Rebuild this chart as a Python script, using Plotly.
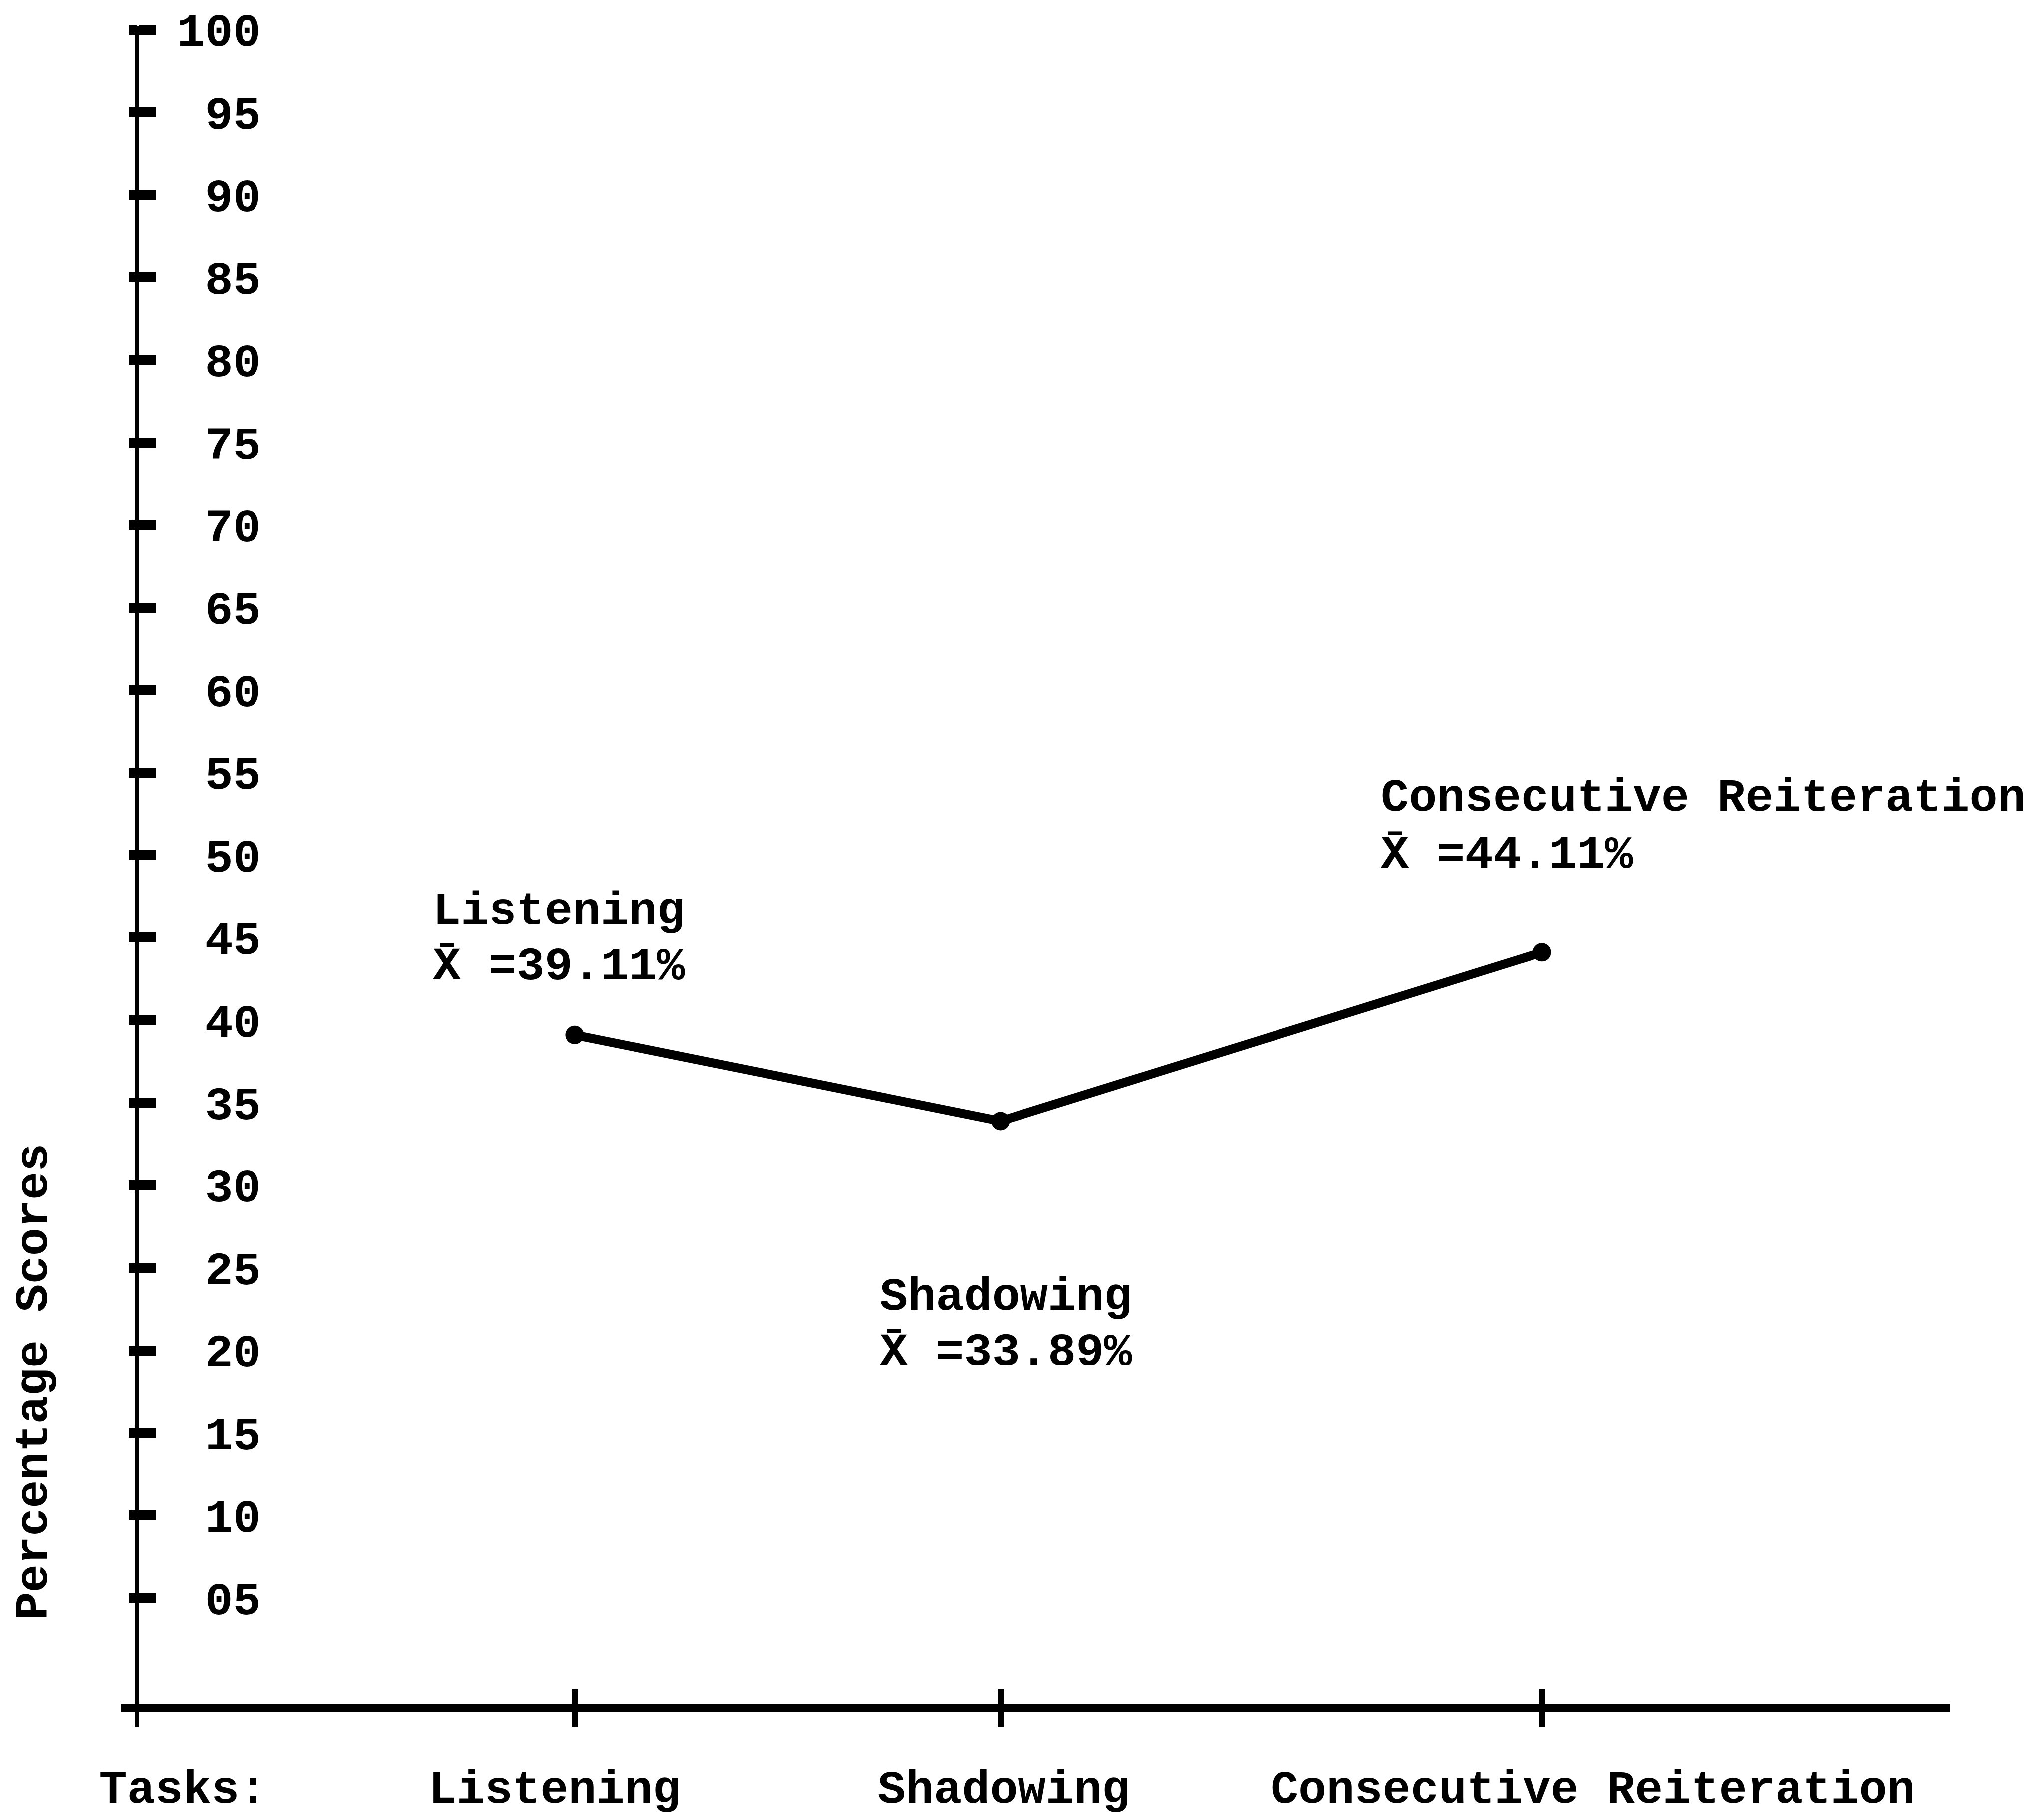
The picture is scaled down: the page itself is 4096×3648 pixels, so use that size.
import plotly.graph_objects as go

# ---------------- data ----------------
tasks = ["Listening", "Shadowing", "Consecutive Reiteration"]
task_means = [39.11, 33.89, 44.11]
mean_labels = ["X\u0304 =39.11%", "X\u0304 =33.89%", "X\u0304 =44.11%"]
y_tick_values = [5, 10, 15, 20, 25, 30, 35, 40, 45, 50, 55, 60, 65, 70, 75, 80, 85, 90, 95, 100]
y_tick_labels = ["05", "10", "15", "20", "25", "30", "35", "40", "45", "50",
                 "55", "60", "65", "70", "75", "80", "85", "90", "95", "100"]
x_prefix_label = "Tasks:"
y_title = "Percentage Scores"

# ---------------- layout / positions ----------------
W, H = 4096, 3648
ML, MR, MT, MB = 234, 196, 45, 195
X_RANGE = [0.061, 3.844]
Y_RANGE = [-2.8, 100.2]
task_pos = [1.0, 1.88, 3.0]                 # x positions of the task ticks / points
bottom_label_pos = [0.19, 0.958, 1.887, 3.105]
yaxis_pos = 0.0088                          # paper position of y axis line
xaxis_pos = 0.0112                          # paper position of x axis line
ylabel_pos = 0.0766
# annotation anchors (x in task units, y in score units)
name_anchor = [(0.7035, 46.57), (1.628, 23.22), (2.6644, 53.45)]
mean_anchor = [(0.7035, 43.22), (1.628, 19.88), (2.6644, 50.0)]

FONT = "Liberation Mono"
FS = 93.6
BLACK = "#000000"
font = dict(family=FONT, size=FS, color=BLACK, weight="bold")

fig = go.Figure()

fig.add_trace(go.Scatter(
    x=task_pos, y=task_means, mode="lines+markers",
    line=dict(color=BLACK, width=18),
    marker=dict(color=BLACK, size=37),
    cliponaxis=False, showlegend=False, hoverinfo="skip",
    xaxis="x", yaxis="y"))
# helper traces so overlay axes are drawn
fig.add_trace(go.Scatter(x=[None], y=[None], xaxis="x2", yaxis="y2",
                         showlegend=False, hoverinfo="skip"))
fig.add_trace(go.Scatter(x=[None], y=[None], xaxis="x3", yaxis="y3",
                         showlegend=False, hoverinfo="skip"))

common_x = dict(range=X_RANGE, domain=[0, 1], showgrid=False, zeroline=False,
                fixedrange=True, automargin=False)
common_y = dict(range=Y_RANGE, domain=[0, 1], showgrid=False, zeroline=False,
                fixedrange=True, automargin=False)

fig.update_layout(
    width=W, height=H,
    margin=dict(l=ML, r=MR, t=MT, b=MB, pad=0, autoexpand=False),
    paper_bgcolor="white", plot_bgcolor="white",
    font=font,
    xaxis=dict(**common_x, anchor="free", position=xaxis_pos,
               showline=True, linecolor=BLACK, linewidth=17,
               tickmode="array", tickvals=task_pos, ticks="inside",
               ticklen=30, tickwidth=12, tickcolor=BLACK,
               showticklabels=False),
    yaxis=dict(**common_y, anchor="free", position=yaxis_pos,
               showline=True, linecolor=BLACK, linewidth=9,
               tickmode="array", tickvals=y_tick_values, ticks="inside",
               ticklen=33, tickwidth=20, tickcolor=BLACK,
               showticklabels=False),
    xaxis2=dict(**common_x, overlaying="x", anchor="free", position=xaxis_pos,
                side="bottom", showline=False, ticks="",
                tickmode="array", tickvals=bottom_label_pos,
                ticktext=[x_prefix_label] + tasks,
                tickfont=font, ticklabelstandoff=96),
    yaxis2=dict(**common_y, overlaying="y", anchor="free", position=ylabel_pos,
                side="left", showline=False, ticks="",
                tickmode="array", tickvals=y_tick_values, ticktext=y_tick_labels,
                tickfont=font),
    xaxis3=dict(**common_x, overlaying="x", anchor="free", position=xaxis_pos,
                side="bottom", showline=False, ticks="outside",
                ticklen=37, tickwidth=12, tickcolor=BLACK,
                tickmode="array", tickvals=task_pos, showticklabels=False),
    yaxis3=dict(**common_y, overlaying="y", anchor="free", position=yaxis_pos,
                side="left", showline=False, ticks="outside",
                ticklen=16, tickwidth=20, tickcolor=BLACK,
                tickmode="array", tickvals=y_tick_values, showticklabels=False),
)

for i, t in enumerate(tasks):
    nx, ny = name_anchor[i]
    mx, my = mean_anchor[i]
    fig.add_annotation(x=nx, y=ny, xref="x", yref="y", text=t, showarrow=False,
                       xanchor="left", yanchor="middle", font=font)
    fig.add_annotation(x=mx, y=my, xref="x", yref="y", text=mean_labels[i],
                       showarrow=False, xanchor="left", yanchor="middle", font=font)

fig.add_annotation(x=-0.0472, y=0.2029, xref="paper", yref="paper", text=y_title,
                   textangle=-90, showarrow=False, xanchor="center", yanchor="middle",
                   font=font)

fig.write_html("out.html")
